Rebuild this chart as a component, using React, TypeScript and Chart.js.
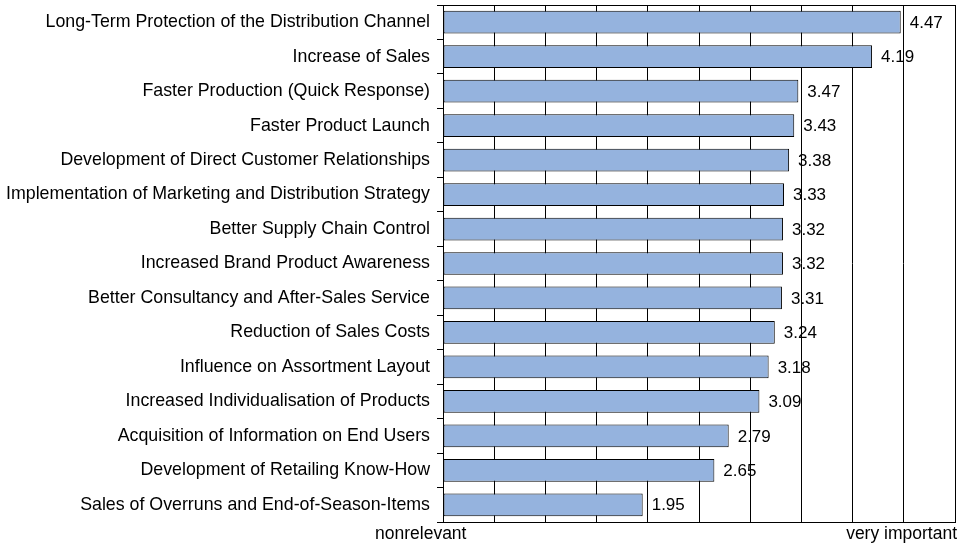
import React, { useEffect, useRef } from "react";
import { Chart, registerables } from "chart.js";

Chart.register(...registerables);

const categories: string[] = [
  "Long-Term Protection of the Distribution Channel",
  "Increase of Sales",
  "Faster Production (Quick Response)",
  "Faster Product Launch",
  "Development of Direct Customer Relationships",
  "Implementation of Marketing and Distribution Strategy",
  "Better Supply Chain Control",
  "Increased Brand Product Awareness",
  "Better Consultancy and After-Sales Service",
  "Reduction of Sales Costs",
  "Influence on Assortment Layout",
  "Increased Individualisation of Products",
  "Acquisition of Information on End Users",
  "Development of Retailing Know-How",
  "Sales of Overruns and End-of-Season-Items",
];

const values: number[] = [4.47, 4.19, 3.47, 3.43, 3.38, 3.33, 3.32, 3.32, 3.31, 3.24, 3.18, 3.09, 2.79, 2.65, 1.95];

const axisMin = 0;
const axisMax = 5;
const axisStep = 0.5;
const lowLabel = "nonrelevant";
const highLabel = "very important";

const FONT = "'Liberation Sans', Arial, sans-serif";

const borderPlugin = {
  id: "borderBox",
  afterDatasetsDraw(chart: any) {
    const { ctx, chartArea } = chart;
    ctx.save();
    ctx.strokeStyle = "#000";
    ctx.lineWidth = 1;
    ctx.strokeRect(
      Math.round(chartArea.left) + 0.5,
      Math.round(chartArea.top) + 0.5,
      Math.round(chartArea.right - chartArea.left),
      Math.round(chartArea.bottom - chartArea.top)
    );
    ctx.restore();
  },
};

const valueLabelPlugin = {
  id: "valueLabels",
  afterDatasetsDraw(chart: any) {
    const { ctx } = chart;
    const meta = chart.getDatasetMeta(0);
    ctx.save();
    ctx.fillStyle = "#000";
    ctx.font = `17px ${FONT}`;
    ctx.textAlign = "left";
    ctx.textBaseline = "middle";
    meta.data.forEach((bar: any, i: number) => {
      const v = chart.data.datasets[0].data[i] as number;
      ctx.fillText(v.toFixed(2), bar.x + 9, bar.y + 1);
    });
    ctx.restore();
  },
};

const endLabelPlugin = {
  id: "endLabels",
  afterDraw(chart: any) {
    const { ctx, chartArea } = chart;
    ctx.save();
    ctx.fillStyle = "#000";
    ctx.font = `17.5px ${FONT}`;
    ctx.textBaseline = "middle";
    const y = chartArea.bottom + 12;
    ctx.textAlign = "left";
    ctx.fillText(lowLabel, chartArea.left - 68, y);
    ctx.textAlign = "right";
    ctx.fillText(highLabel, chartArea.right + 2, y);
    ctx.restore();
  },
};

export default function App() {
  const canvasRef = useRef<HTMLCanvasElement | null>(null);

  useEffect(() => {
    document.body.style.margin = "0";
    const canvas = canvasRef.current;
    if (!canvas) return;
    const chart = new Chart(canvas, {
      type: "bar",
      data: {
        labels: categories,
        datasets: [
          {
            data: values,
            backgroundColor: "#95B3DE",
            borderColor: "#000",
            borderWidth: 1,
            borderSkipped: false,
            categoryPercentage: 1,
            barPercentage: 0.66,
          },
        ],
      },
      options: {
        indexAxis: "y",
        animation: false,
        responsive: false,
        maintainAspectRatio: false,
        layout: { padding: { top: 5, right: 8, left: 0, bottom: 0 } },
        plugins: {
          legend: { display: false },
          tooltip: { enabled: false },
        },
        scales: {
          x: {
            min: axisMin,
            max: axisMax,
            ticks: {
              stepSize: axisStep,
              autoSkip: false,
              display: false,
            },
            grid: {
              color: "#000",
              lineWidth: 1,
              drawTicks: false,
            },
            border: { color: "#000", width: 1 },
            afterFit: (scale: any) => {
              scale.height = 24;
              scale.paddingLeft = 0;
              scale.paddingRight = 0;
            },
          },
          y: {
            ticks: {
              color: "#000",
              autoSkip: false,
              padding: 7,
              font: { family: FONT, size: 17.8 },
            },
            grid: {
              drawOnChartArea: false,
              color: "#000",
              tickLength: 6,
              offset: true,
            },
            border: { color: "#000", width: 1 },
            afterFit: (scale: any) => {
              scale.width = 443;
              scale.paddingTop = 0;
              scale.paddingBottom = 0;
            },
          },
        },
      },
      plugins: [borderPlugin, valueLabelPlugin, endLabelPlugin],
    });
    return () => chart.destroy();
  }, []);

  return (
    <div style={{ position: "absolute", left: 0, top: 0, width: 963, height: 546 }}>
      <canvas ref={canvasRef} width={963} height={546} style={{ width: 963, height: 546 }} />
    </div>
  );
}
